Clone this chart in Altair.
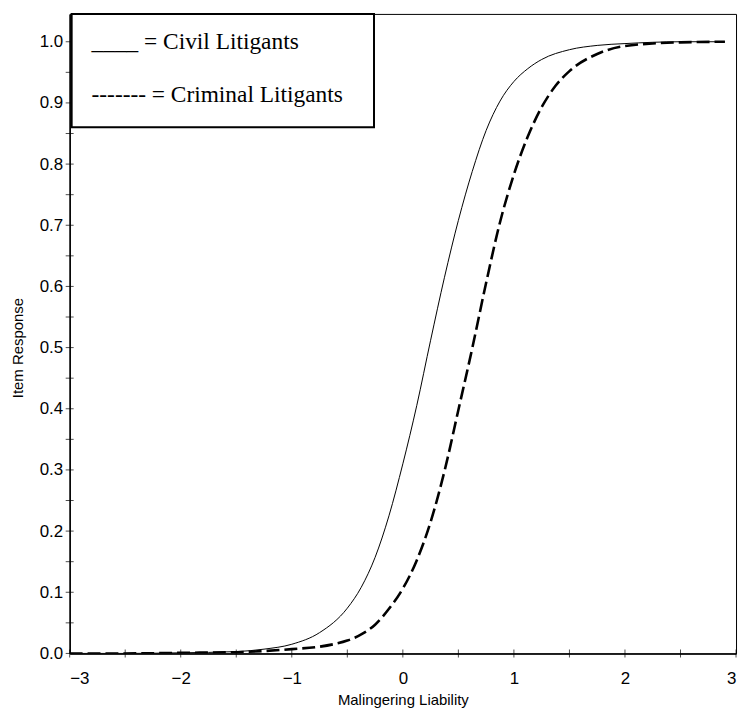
import altair as alt
import pandas as pd

# Curve readings (x = Malingering Liability, y = Item Response)
civil_x = [-3, -2.5, -2, -1.5, -1.25, -1, -0.75, -0.5, -0.375, -0.25, -0.125, 0,
           0.125, 0.25, 0.375, 0.5, 0.625, 0.75, 0.875, 1.0, 1.125, 1.25, 1.5,
           1.75, 2, 2.5, 2.9]
civil_y = [0.000, 0.000, 0.001, 0.003, 0.007, 0.015, 0.034, 0.074, 0.108, 0.157,
           0.225, 0.31, 0.405, 0.512, 0.615, 0.708, 0.788, 0.855, 0.903, 0.935, 0.956,
           0.971, 0.987, 0.994, 0.997, 1.0, 1.0]

criminal_x = [-3, -2.5, -2, -1.5, -1.25, -1, -0.75, -0.625, -0.5, -0.375, -0.25, -0.125,
              0, 0.125, 0.25, 0.375, 0.5, 0.625, 0.75, 0.875, 1.0, 1.125, 1.25, 1.375,
              1.5, 1.75, 2, 2.5, 2.9]
criminal_y = [0.000, 0.000, 0.001, 0.002, 0.004, 0.007, 0.011, 0.015, 0.021, 0.031,
              0.047, 0.073, 0.106, 0.152, 0.215, 0.298, 0.398, 0.499, 0.606, 0.705,
              0.783, 0.845, 0.893, 0.928, 0.952, 0.98, 0.993, 0.999, 1.0]

x_ticks = [-3, -2.5, -2, -1.5, -1, -0.5, 0, 0.5, 1, 1.5, 2, 2.5, 3]
x_labels = [-3, -2, -1, 0, 1, 2, 3]
y_ticks = [round(i * 0.05, 2) for i in range(21)]
y_labels = [round(i * 0.1, 1) for i in range(11)]

legend_lines = ["____ = Civil Litigants", "------- = Criminal Litigants"]

W, H = 670, 643
FONT = "Liberation Sans"
SERIF = "Liberation Serif"

xs = alt.Scale(domain=[-3, 3], nice=False, zero=False)
ys = alt.Scale(domain=[0, 1.0455], nice=False, zero=False)

civil = pd.DataFrame({"x": civil_x, "y": civil_y})
criminal = pd.DataFrame({"x": criminal_x, "y": criminal_y})

base_x = alt.X("x:Q", scale=xs,
               axis=alt.Axis(values=x_labels, format="d", title="Malingering Liability",
                             titleX=W / 2, titleY=46, titleBaseline="middle",
                             labelPadding=17))
base_y = alt.Y("y:Q", scale=ys,
               axis=alt.Axis(values=y_labels, format=".1f", title="Item Response",
                             titleX=-52, titleY=H * (1 - 0.5 / 1.0455),
                             titleAngle=270, titleBaseline="middle", titleAlign="center",
                             labelPadding=7))

civil_line = alt.Chart(civil).mark_line(
    color="black", strokeWidth=1, clip=True, interpolate="monotone").encode(
    x=base_x, y=base_y)
criminal_line = alt.Chart(criminal).mark_line(
    color="black", strokeWidth=2.6, strokeDash=[13, 5], clip=True,
    interpolate="monotone").encode(x="x:Q", y="y:Q")

xt = alt.Chart(pd.DataFrame({"x": x_ticks})).mark_tick(
    orient="vertical", size=8, thickness=1, color="black").encode(
    x="x:Q", y=alt.datum(0))
yt = alt.Chart(pd.DataFrame({"y": y_ticks})).mark_tick(
    orient="horizontal", size=8, thickness=1, color="black").encode(
    y="y:Q", x=alt.datum(-3))

box = alt.Chart(pd.DataFrame({"k": [0]})).mark_rect(
    fill="white", stroke="black", strokeWidth=2).encode(
    x=alt.value(2), x2=alt.value(306), y=alt.value(0), y2=alt.value(114))

leg = alt.Chart(pd.DataFrame({"t": legend_lines, "py": [35, 89]})).mark_text(
    font=SERIF, fontSize=23.5, align="left", baseline="alphabetic", color="black").encode(
    x=alt.value(22), y=alt.Y("py:Q", scale=None), text="t:N")

chart = alt.layer(civil_line, criminal_line, xt, yt, box, leg).properties(
    width=W, height=H,
    autosize=alt.AutoSizeParams(type="none"),
    padding={"left": 62, "top": 4, "right": 5, "bottom": 68},
    background="white",
).configure_view(stroke="black", strokeWidth=1).configure_axis(
    domainColor="black", domainWidth=1.5, ticks=False, grid=False,
    labelFont=FONT, labelFontSize=17, labelColor="black",
    titleFont=FONT, titleFontSize=15, titleColor="black", titleFontWeight="normal",
)

chart.save("out.html", embed_options={"renderer": "svg", "actions": False})
